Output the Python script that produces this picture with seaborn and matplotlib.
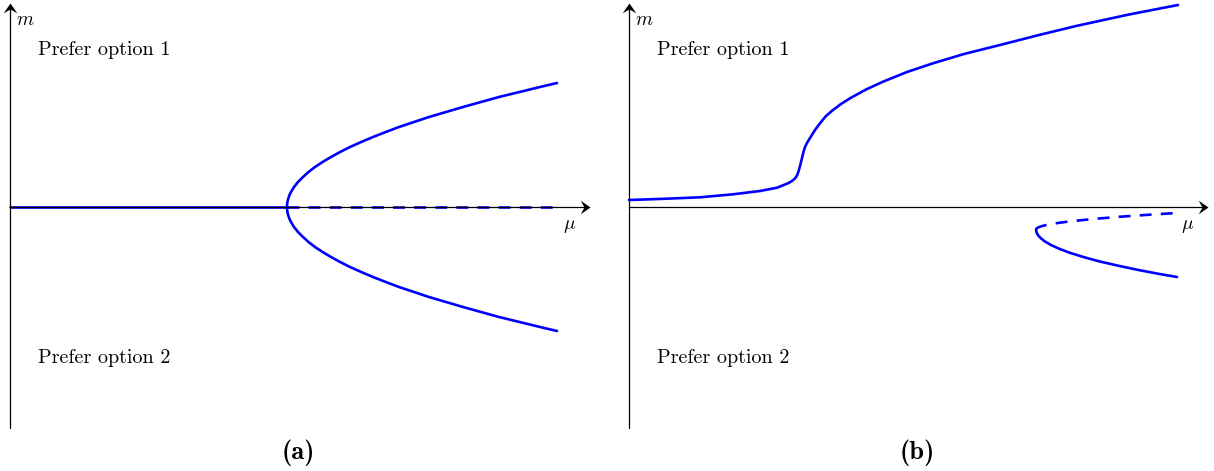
import matplotlib
matplotlib.use("Agg")
import matplotlib.pyplot as plt
from matplotlib.path import Path
import seaborn as sns
import pandas as pd

sns.set_theme(style="white")
plt.rcParams["mathtext.fontset"] = "cm"
plt.rcParams["font.family"] = ["cmr10", "DejaVu Serif"]
plt.rcParams["axes.formatter.use_mathtext"] = True
plt.rcParams["text.color"] = "black"

BLUE = "#0000ff"

# (a) pitchfork: branch magnitude vs mu
a_branch_m = [0, 0.025, 0.05, 0.075, 0.1, 0.125, 0.15, 0.2, 0.25, 0.3, 0.35, 0.4, 0.45,
              0.5, 0.55, 0.6, 0.65, 0.7, 0.75, 0.8, 0.9, 1.0, 1.1, 1.2, 1.24]
a_branch_mu = [2.77, 2.771, 2.774, 2.78, 2.788, 2.797, 2.81, 2.84, 2.88, 2.93, 2.985, 3.05, 3.126,
               3.21, 3.301, 3.40, 3.512, 3.63, 3.758, 3.89, 4.19, 4.53, 4.89, 5.30, 5.47]
a_trivial_mu = [0.0, 2.77]
a_unstable_mu = [2.77, 5.47]

# (b) imperfect bifurcation
b_upper_mu = [0.0, 0.35, 0.71, 1.04, 1.31, 1.48, 1.59, 1.63, 1.66, 1.68, 1.695, 1.71, 1.73, 1.745,
              1.76, 1.785, 1.81, 1.86, 1.91, 1.97, 2.04, 2.12, 2.21, 2.37, 2.54, 2.78, 3.04,
              3.35, 3.71, 4.10, 4.47, 5.00, 5.49]
b_upper_m = [0.070, 0.082, 0.097, 0.127, 0.160, 0.193, 0.237, 0.26, 0.285, 0.315, 0.355, 0.41, 0.49,
             0.55, 0.60, 0.65, 0.69, 0.77, 0.837, 0.91, 0.97, 1.03, 1.087, 1.175, 1.253, 1.35,
             1.437, 1.53, 1.62, 1.72, 1.81, 1.925, 2.02]
b_dash_mu = [4.07, 4.075, 4.09, 4.12, 4.16, 4.22, 4.30, 4.40, 4.55, 4.70, 4.90, 5.10, 5.30, 5.48]
b_dash_m = [-0.225, -0.215, -0.205, -0.194, -0.183, -0.171, -0.158, -0.145, -0.129, -0.115,
            -0.098, -0.084, -0.071, -0.060]
b_lower_mu = [4.07, 4.075, 4.09, 4.12, 4.16, 4.22, 4.30, 4.40, 4.55, 4.70, 4.90, 5.10, 5.30, 5.48]
b_lower_m = [-0.225, -0.253, -0.282, -0.314, -0.345, -0.38, -0.417, -0.455, -0.502, -0.543,
             -0.589, -0.631, -0.669, -0.70]

fig = plt.figure(figsize=(12.14, 4.71), dpi=100)
ax_a = fig.add_axes([0, 0, 600 / 1214, 1])
ax_b = fig.add_axes([619 / 1214, 0, 595 / 1214, 1])

# stealth-like arrow heads, tip at the origin
head_right = Path([(0, 0), (-1, 0.7), (-0.62, 0), (-1, -0.7), (0, 0)],
                  [Path.MOVETO, Path.LINETO, Path.LINETO, Path.LINETO, Path.CLOSEPOLY])
head_up = Path([(0, 0), (0.7, -1), (0, -0.62), (-0.7, -1), (0, 0)],
               [Path.MOVETO, Path.LINETO, Path.LINETO, Path.LINETO, Path.CLOSEPOLY])


def line(ax, x, y, dashed=False):
    df = pd.DataFrame({"mu": x, "m": y})
    sns.lineplot(data=df, x="mu", y="m", ax=ax, sort=False, estimator=None,
                 color=BLUE, lw=1.9, zorder=2,
                 linestyle=(0, (4.5, 3.5)) if dashed else "-")


def frame(ax, xend, label):
    ax.set_xlim(-0.10, 5.90 if label == "(a)" else 5.85)
    ax.set_ylim(-2.64, 2.07)
    ax.set_axis_off()
    ax.plot([0, xend - 0.05], [0, 0], color="black", lw=0.9, zorder=3)
    ax.plot([0, 0], [-2.21, 2.00], color="black", lw=0.9, zorder=3)
    ax.plot([xend], [0], marker=head_right, ms=14, color="black", mew=0, zorder=4)
    ax.plot([0], [2.04], marker=head_up, ms=14, color="black", mew=0, zorder=4)
    ax.text(0.06, 1.87, r"$m$", fontsize=14, va="center", ha="left")
    ax.text(xend - 0.27, -0.19, r"$\mu$", fontsize=14, va="center", ha="left")
    ax.text(0.28, 1.57, "Prefer option 1", fontsize=14.5, va="center", ha="left")
    ax.text(0.28, -1.51, "Prefer option 2", fontsize=14.5, va="center", ha="left")
    ax.text(2.88, -2.46, label, fontsize=19, va="center", ha="center",
            family=["cmb10", "DejaVu Serif"])


# panel (a)
line(ax_a, a_trivial_mu, [0, 0])
line(ax_a, a_unstable_mu, [0, 0], dashed=True)
line(ax_a, a_branch_mu[::-1] + a_branch_mu,
     [-v for v in a_branch_m[::-1]] + a_branch_m)
frame(ax_a, 5.80, "(a)")

# panel (b)
line(ax_b, b_upper_mu, b_upper_m)
line(ax_b, b_dash_mu, b_dash_m, dashed=True)
line(ax_b, b_lower_mu, b_lower_m)
frame(ax_b, 5.79, "(b)")

fig.savefig("out.png", dpi=100)
